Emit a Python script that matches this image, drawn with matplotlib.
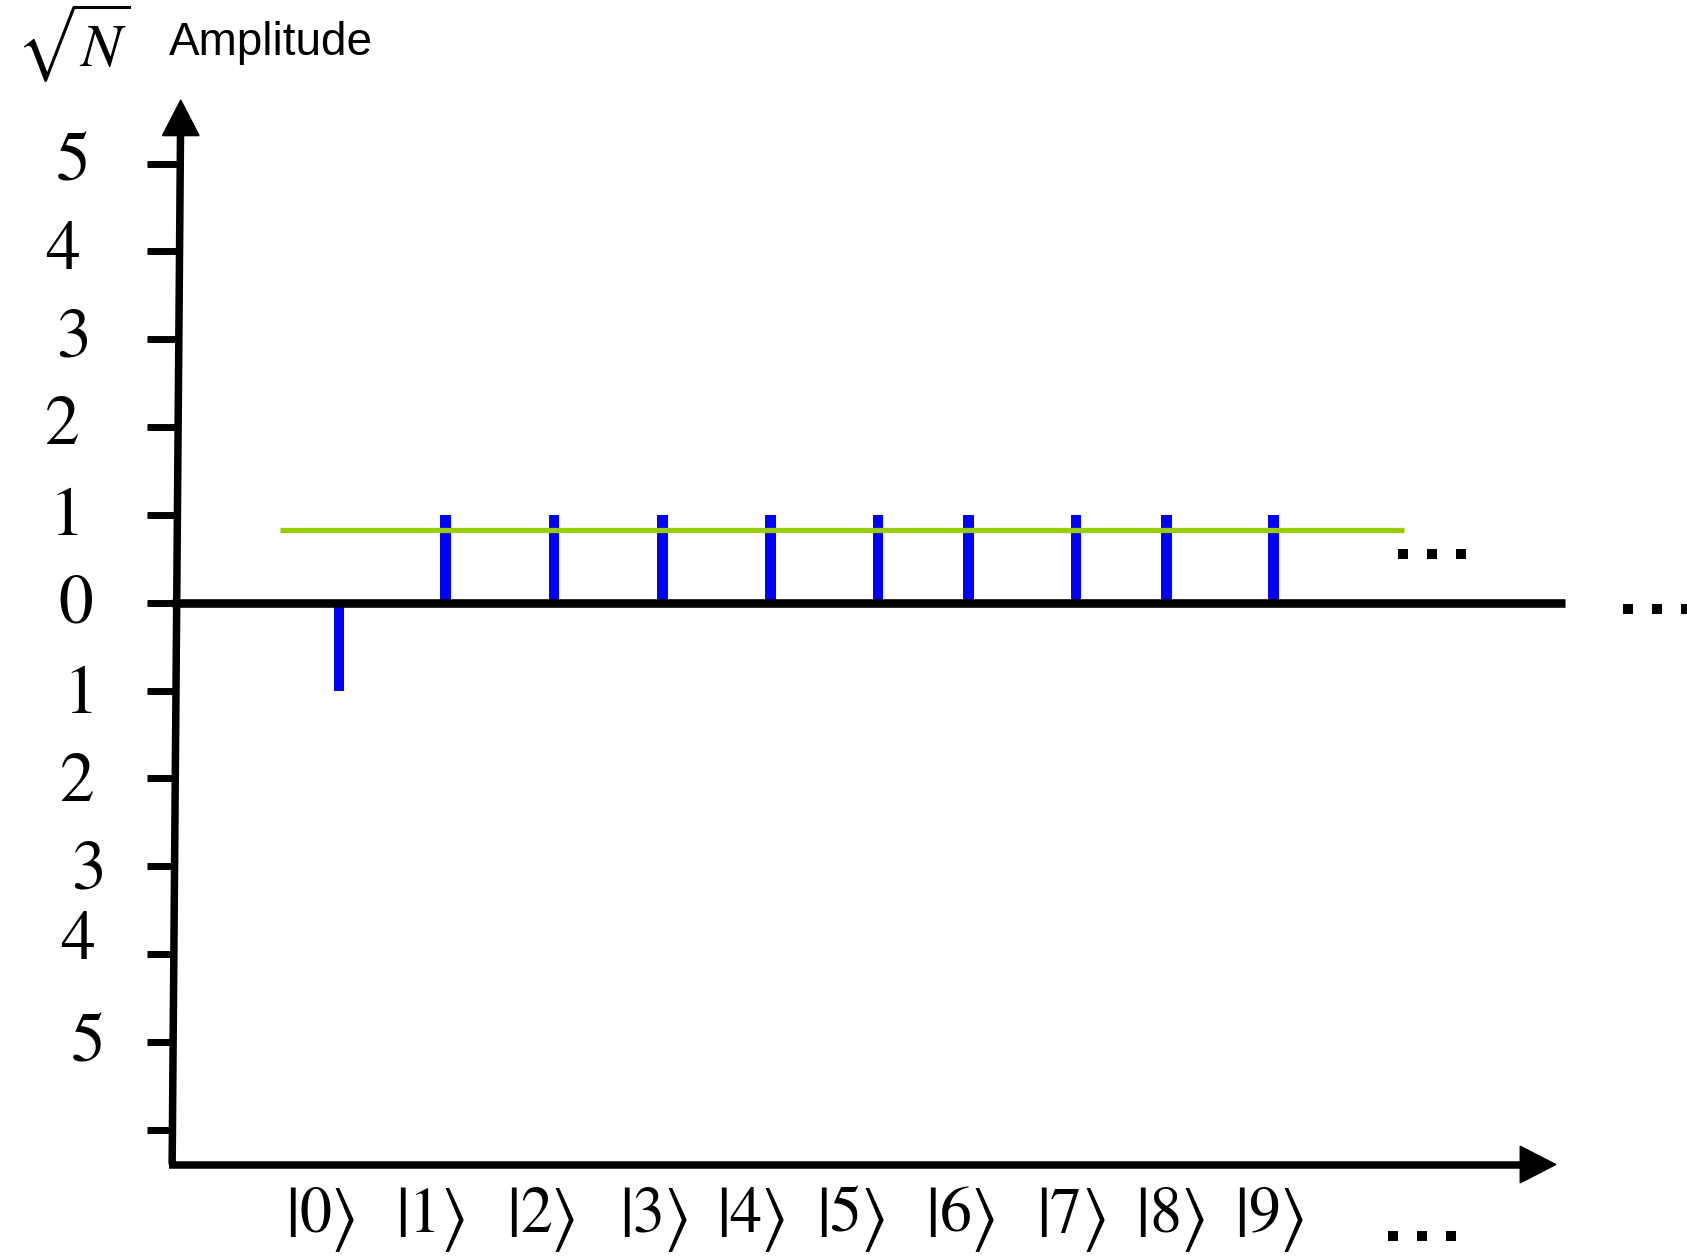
import matplotlib
matplotlib.use("Agg")
import matplotlib.pyplot as plt
import numpy as np
from matplotlib.patches import Polygon

plt.rcParams['mathtext.fontset'] = 'stix'

# ---- data ----
states = ['0', '1', '2', '3', '4', '5', '6', '7', '8', '9']
amplitudes = [-1, 1, 1, 1, 1, 1, 1, 1, 1, 1]
mean_amplitude = 0.83
tick_values = [5, 4, 3, 2, 1, 0, -1, -2, -3, -4, -5, -6]
tick_labels = ['5', '4', '3', '2', '1', '0', '1', '2', '3', '4', '5', '']

# ---- layout (reference pixel units, 1568-wide) ----
W, H = 1568, 1167
Y0PIX, UNIT = 560, 81.6
state_x = [315, 414, 515, 616, 716, 816, 900, 1000, 1084, 1184]
ket_x = [300, 402, 505, 610, 700, 793, 895, 998, 1090, 1182]
label_x = [68, 58, 68, 58, 62, 70, 75, 72, 82, 72, 82, 0]
label_dy = [-0.01, -0.01, -0.01, -0.01, -0.04, -0.04, -0.07, -0.07, -0.07, 0.13, -0.04, 0]

def yv(pix):
    return (Y0PIX - pix) / UNIT

fig = plt.figure(figsize=(16.87, 12.56), dpi=100)
ax = fig.add_axes([0, 0, 1, 1])
ax.set_xlim(0, W)
ax.set_ylim(yv(H), yv(0))
ax.axis('off')

# y axis (slightly slanted)
yax_top, yax_bot = 118, 1082
def yaxis_x(pix):
    return 168 - 8 * (pix - 95) / 987
ax.plot([yaxis_x(yax_bot), yaxis_x(yax_top)], [yv(yax_bot), yv(yax_top)],
        color='black', lw=5.4, solid_capstyle='butt', zorder=3)
tip = (yaxis_x(95), yv(93))
ax.add_patch(Polygon([[tip[0], tip[1]],
                      [tip[0] - 17, yv(126)],
                      [tip[0] + 17, yv(126)]], closed=True, color='black', zorder=4))

# ticks
for v in tick_values:
    py = Y0PIX - v * UNIT
    ax.plot([137, yaxis_x(py)], [v, v], color='black', lw=5.0,
            solid_capstyle='butt', zorder=3)

# tick labels
for v, lab, lx, dy in zip(tick_values, tick_labels, label_x, label_dy):
    if lab:
        ax.text(lx, v + dy, lab, family='STIXGeneral', fontsize=50,
                ha='center', va='center')

# x axis at bottom with arrow
xb = yv(1082)
ax.plot([157, 1420], [xb, xb], color='black', lw=5.4, solid_capstyle='butt', zorder=3)
ax.add_patch(Polygon([[1446, xb], [1413, xb + 17 / UNIT], [1413, xb - 17 / UNIT]],
                     closed=True, color='black', zorder=4))

# zero line
ax.plot([160, 1455], [0, 0], color='black', lw=6.2, solid_capstyle='butt', zorder=3)

# bars
ax.bar(state_x, amplitudes, width=10, color='#0000FF', zorder=2)

# mean line
ax.plot([260, 1305], [mean_amplitude, mean_amplitude], color='#99CC00', lw=3.8,
        solid_capstyle='butt', zorder=2)

# kets
for k, kx in zip(states, ket_x):
    ax.text(kx - 28, yv(1133), '|', family='STIXGeneral', fontsize=52,
            ha='center', va='center')
    ax.text(kx - 7, yv(1130), k, family='STIXGeneral', fontsize=46,
            ha='center', va='center')
    ax.text(kx + 20, yv(1133), '\u27E9', family='STIXGeneral', fontsize=50,
            ha='center', va='center')

# ellipses
def dots(cx, cy):
    ax.scatter([cx - 27, cx, cx + 27], [yv(cy)] * 3, marker='s', s=52,
               color='black', linewidths=0, zorder=5, clip_on=True)
dots(1331, 515)
dots(1540, 566)
dots(1322, 1148)

# header
ax.text(68, yv(40), r'$\sqrt{N}$', fontsize=44, ha='center', va='center')
ax.text(157, yv(40), 'Amplitude', family='Liberation Sans', fontsize=33,
        ha='left', va='center')

fig.savefig('out.png', dpi=100)
